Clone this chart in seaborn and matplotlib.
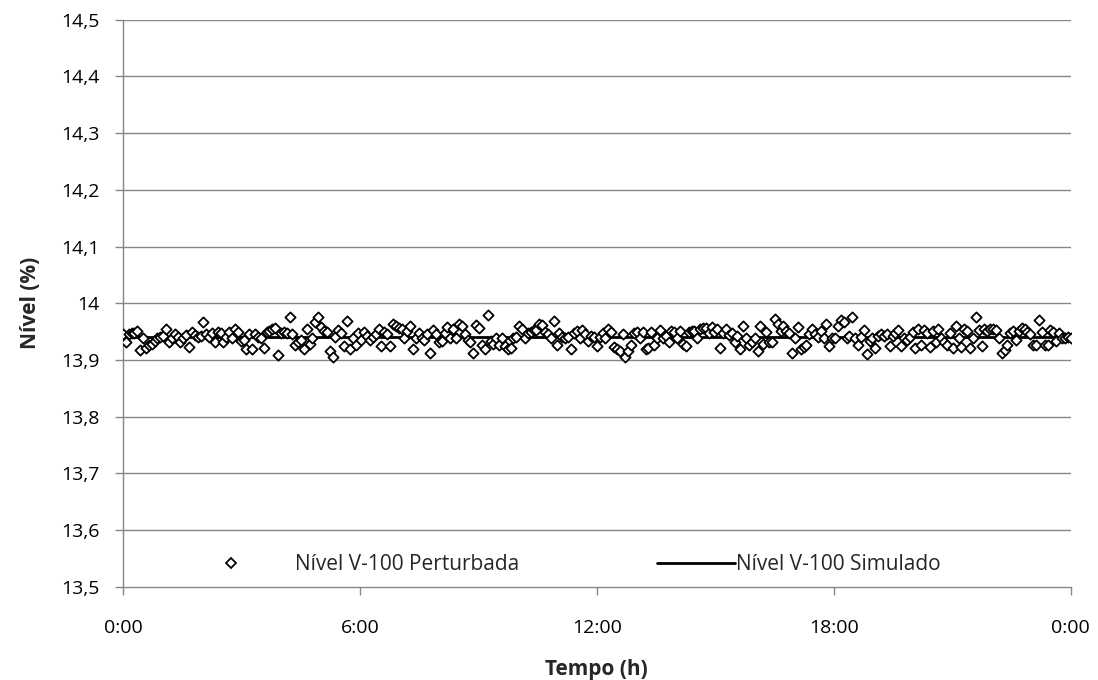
import numpy as np
import pandas as pd
import seaborn as sns
import matplotlib.pyplot as plt
from matplotlib.lines import Line2D

# Nível V-100 Perturbada (%), evenly spaced over 24 h
level_perturbed = [
    13.945, 13.931, 13.945, 13.947, 13.947, 13.951, 13.917, 13.938, 13.922, 13.926,
    13.929, 13.933, 13.938, 13.941, 13.943, 13.955, 13.932, 13.938, 13.945, 13.941,
    13.931, 13.938, 13.944, 13.923, 13.949, 13.944, 13.941, 13.943, 13.967, 13.945,
    13.941, 13.947, 13.932, 13.950, 13.947, 13.932, 13.941, 13.950,
    13.938, 13.955, 13.949, 13.933, 13.935, 13.920, 13.945, 13.920, 13.945, 13.941,
    13.938, 13.922, 13.950, 13.951, 13.955, 13.956, 13.909, 13.947, 13.950, 13.947,
    13.975, 13.945, 13.926, 13.932, 13.935, 13.919, 13.955, 13.929, 13.938, 13.967,
    13.975, 13.959, 13.951, 13.949, 13.916, 13.906, 13.941, 13.953, 13.947, 13.925,
    13.969, 13.920,
    13.938, 13.927, 13.947, 13.935, 13.950, 13.943, 13.935, 13.941, 13.945, 13.955,
    13.925, 13.949, 13.945, 13.925, 13.964, 13.960, 13.956, 13.955, 13.938, 13.951,
    13.960, 13.919, 13.938, 13.947, 13.938, 13.935, 13.945, 13.912, 13.953, 13.945,
    13.932, 13.933, 13.947, 13.959, 13.938, 13.955, 13.938, 13.964, 13.960, 13.945,
    13.935, 13.931, 13.912, 13.962,
    13.957, 13.926, 13.920, 13.980, 13.933, 13.929, 13.938, 13.927, 13.938, 13.925,
    13.920, 13.922, 13.938, 13.941, 13.960, 13.955, 13.938, 13.947, 13.949, 13.953,
    13.953, 13.963, 13.962, 13.950, 13.945, 13.938, 13.969, 13.926, 13.947, 13.941,
    13.938, 13.941, 13.919, 13.947, 13.951, 13.938, 13.953, 13.945, 13.933, 13.943,
    13.941, 13.925, 13.941, 13.947,
    13.938, 13.955, 13.949, 13.923, 13.919, 13.915, 13.945, 13.906, 13.916, 13.927,
    13.947, 13.949, 13.938, 13.949, 13.919, 13.922, 13.950, 13.926, 13.938, 13.953,
    13.938, 13.943, 13.931, 13.951, 13.949, 13.938, 13.951, 13.929, 13.925, 13.949,
    13.951, 13.951, 13.938, 13.955, 13.957, 13.957, 13.947, 13.959, 13.950, 13.955,
    13.922, 13.947,
    13.955, 13.944, 13.947, 13.932, 13.943, 13.920, 13.960, 13.938, 13.927, 13.931,
    13.938, 13.916, 13.960, 13.929, 13.950, 13.931, 13.931, 13.972, 13.964, 13.951,
    13.960, 13.951, 13.947, 13.912, 13.938, 13.959, 13.920, 13.923, 13.926, 13.945,
    13.955, 13.945, 13.941, 13.951, 13.938, 13.964, 13.925, 13.939, 13.938, 13.960,
    13.970,
    13.967, 13.938, 13.943, 13.975, 13.938, 13.927, 13.941, 13.953, 13.910, 13.933,
    13.938, 13.922, 13.943, 13.945, 13.943, 13.945, 13.925, 13.943, 13.947, 13.953,
    13.925, 13.938, 13.935, 13.941, 13.949, 13.922, 13.955, 13.927, 13.953, 13.947,
    13.923, 13.951, 13.931, 13.955, 13.938, 13.931, 13.926, 13.947, 13.922, 13.960,
    13.938, 13.923, 13.955, 13.951, 13.922, 13.938, 13.975, 13.953, 13.925, 13.955,
    13.951, 13.955, 13.955, 13.953, 13.938, 13.912, 13.918, 13.927, 13.947, 13.951,
    13.935, 13.951, 13.957, 13.955, 13.949, 13.945, 13.927, 13.926, 13.970, 13.950,
    13.927, 13.927, 13.953, 13.949, 13.933, 13.947, 13.938, 13.938, 13.941, 13.939,
]
time_perturbed = np.linspace(0, 24, len(level_perturbed))

# Nível V-100 Simulado (%)
time_sim = [0, 24]
level_sim = [13.941, 13.941]

y_ticks = [13.5, 13.6, 13.7, 13.8, 13.9, 14.0, 14.1, 14.2, 14.3, 14.4, 14.5]
y_tick_labels = ["13,5", "13,6", "13,7", "13,8", "13,9", "14", "14,1", "14,2", "14,3", "14,4", "14,5"]
x_ticks = [0, 6, 12, 18, 24]
x_tick_labels = ["0:00", "6:00", "12:00", "18:00", "0:00"]

df_pert = pd.DataFrame({"t": time_perturbed, "nivel": level_perturbed})
df_sim = pd.DataFrame({"t": time_sim, "nivel": level_sim})

sns.set_theme(style="white")
plt.rcParams["font.family"] = ["Open Sans", "DejaVu Sans"]
fs = 14
fs_big = 15

fig = plt.figure(figsize=(10.98, 6.8), dpi=100)
ax = fig.add_axes([0.112, 0.137, 0.863, 0.834])

grey = "#868686"
for yv in y_ticks[1:]:
    ax.axhline(yv, color=grey, lw=1.0, zorder=0)

sns.lineplot(data=df_sim, x="t", y="nivel", color="black", lw=2.0, ax=ax, zorder=2)
sns.scatterplot(data=df_pert, x="t", y="nivel", marker="D", s=27, facecolor="white",
                edgecolor="black", linewidth=1.3, ax=ax, zorder=3)

ax.set_xlim(0, 24)
ax.set_ylim(13.5, 14.5)
ax.set_xticks(x_ticks)
ax.set_xticklabels(x_tick_labels)
ax.set_yticks(y_ticks)
ax.set_yticklabels(y_tick_labels)
ax.tick_params(axis="both", labelsize=fs, labelcolor="black", color=grey, length=6,
               width=1.0, direction="out", left=True, bottom=True)
ax.tick_params(axis="x", pad=17)
ax.tick_params(axis="y", pad=11)

for side in ["top", "right"]:
    ax.spines[side].set_visible(False)
for side in ["left", "bottom"]:
    ax.spines[side].set_color(grey)
    ax.spines[side].set_linewidth(1.0)

ax.set_xlabel("Tempo (h)", fontsize=fs_big, fontweight="bold", labelpad=16)
ax.set_ylabel("Nível (%)", fontsize=fs_big, fontweight="bold", labelpad=14)

h1 = Line2D([], [], marker="D", ls="none", markersize=4.8, markerfacecolor="white",
            markeredgecolor="black", markeredgewidth=1.3)
h2 = Line2D([], [], color="black", lw=2.0)
leg1 = ax.legend([h1], ["Nível V-100 Perturbada"], loc="center left", frameon=False,
                 bbox_to_anchor=(0.094, 0.039), fontsize=fs_big, handlelength=1.0,
                 handletextpad=2.6, borderaxespad=0)
ax.add_artist(leg1)
ax.legend([h2], ["Nível V-100 Simulado"], loc="center left", frameon=False,
          bbox_to_anchor=(0.555, 0.039), fontsize=fs_big, handlelength=3.75,
          handletextpad=0.05, borderaxespad=0)

fig.savefig("out.png", dpi=100)
